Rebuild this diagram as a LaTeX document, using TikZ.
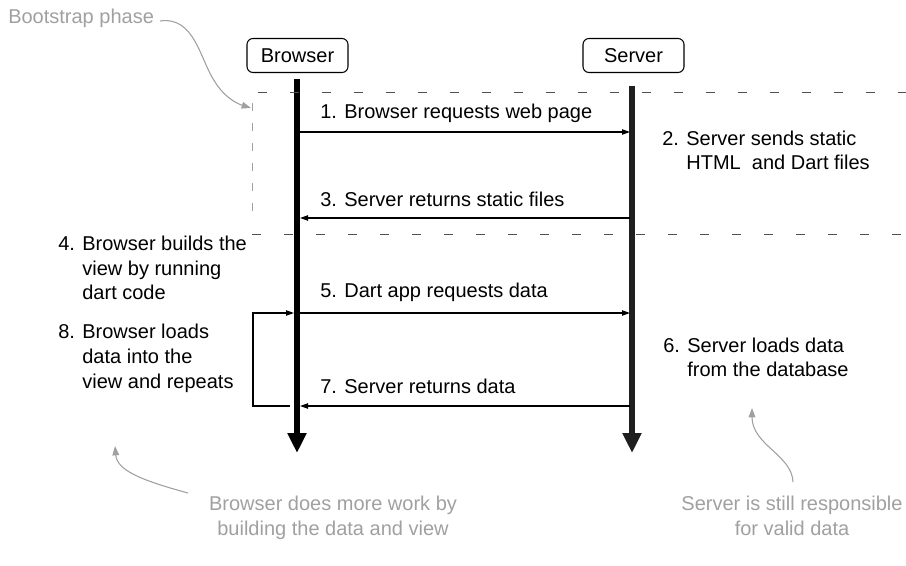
\documentclass[tikz,border=0pt]{standalone}
\usepackage{fontspec}
\setmainfont{Liberation Sans}
\usetikzlibrary{arrows.meta}
\definecolor{notegray}{RGB}{160,160,160}
\definecolor{phasegray}{RGB}{80,80,80}
\begin{document}
\begin{tikzpicture}[x=0.75pt,y=-0.75pt,
  every node/.style={font=\fontsize{15}{18.4}\selectfont, inner sep=0pt},
  actor/.style={draw, rounded corners=4.5pt, line width=0.8pt, minimum width=75.75pt, minimum height=25.5pt},
  lifeline/.style={line width=3.9pt, -{Triangle[length=15pt,width=13.5pt]}},
  msg/.style={line width=0.9pt, -{Triangle[length=6pt,width=4pt]}},
  lbl/.style={anchor=base west, align=left},
  note/.style={text=notegray, align=center, anchor=base},
  notearrow/.style={draw=notegray, line width=0.8pt, -{Triangle[length=7pt,width=5pt]}},
  phaseline/.style={draw=phasegray, line width=0.7pt, dash pattern=on 7pt off 17pt},
  phaseside/.style={draw=notegray, line width=0.7pt, dash pattern=on 6pt off 9pt}
]
\useasboundingbox (0,0) rectangle (906,566);

% actors
\node[actor] (browser) at (297.5,55.5) {Browser};
\node[actor] (server) at (633.5,55.5) {Server};

% lifelines
\coordinate (bt) at (297,79);
\coordinate (bb) at (297,453);
\coordinate (st) at (632,86);
\coordinate (sb) at (632,453);
\draw[lifeline] (bt) -- (bb);
\draw[lifeline, draw=black!88, fill=black!88] (st) -- (sb);

% bootstrap phase box
\coordinate (p1a) at (258,92);
\coordinate (p1b) at (906,92);
\coordinate (p2a) at (252,234);
\coordinate (p2b) at (906,234);
\coordinate (pva) at (252,103);
\coordinate (pvb) at (252,215);
\draw[phaseline] (p1a) -- (p1b);
\draw[phaseline] (p2a) -- (p2b);
\draw[phaseside] (pva) -- (pvb);

% messages
\coordinate (m1b) at (300,132); \coordinate (m1s) at (630,132);
\coordinate (m3b) at (300,218); \coordinate (m3s) at (630,218);
\coordinate (m5b) at (300,313); \coordinate (m5s) at (630,313);
\coordinate (m7b) at (300,406); \coordinate (m7s) at (630,406);
\coordinate (lpa) at (290,406); \coordinate (lpb) at (294,313);
\coordinate (lpx) at (253,406);
\draw[msg] (m1b) -- (m1s);
\draw[msg] (m3s) -- (m3b);
\draw[msg] (m5b) -- (m5s);
\draw[msg] (m7s) -- (m7b);
\draw[msg] (lpa) -- (lpx) |- (lpb);

% labels (base = baseline of the last line)
\node[lbl] (l1) at (320,119) {1. Browser requests web page};
\node[lbl] (l2) at (662,170) {2. Server sends static\\\hphantom{2. }HTML\ \ and Dart files};
\node[lbl] (l3) at (320,207) {3. Server returns static files};
\node[lbl] (l4) at (58,300) {4. Browser builds the\\\hphantom{4. }view by running\\\hphantom{4. }dart code};
\node[lbl] (l5) at (320,298) {5. Dart app requests data};
\node[lbl] (l6) at (663,377) {6. Server loads data\\\hphantom{6. }from the database};
\node[lbl] (l7) at (320,393) {7. Server returns data};
\node[lbl] (l8) at (58,388) {8. Browser loads\\\hphantom{8. }data into the\\\hphantom{8. }view and repeats};

% notes
\node[text=notegray, anchor=base west] (n1) at (8,24) {Bootstrap phase};
\node[note] (n2) at (333,535) {Browser does more work by\\building the data and view};
\node[note] (n3) at (792,535) {Server is still responsible\\for valid data};

\coordinate (n1s) at (160,21);
\coordinate (n1e) at (251,108);
\coordinate (n2s) at (188,493);
\coordinate (n2e) at (115,446);
\coordinate (n3s) at (793,482);
\coordinate (n3e) at (752,408);
\draw[notearrow] (n1s) .. controls (195,16) and (200,60) .. (215,82) .. controls (225,98) and (238,104) .. (n1e);
\draw[notearrow] (n2s) .. controls (140,480) and (117,470) .. (n2e);
\draw[notearrow] (n3s) .. controls (792,455) and (752,445) .. (n3e);
\end{tikzpicture}
\end{document}
